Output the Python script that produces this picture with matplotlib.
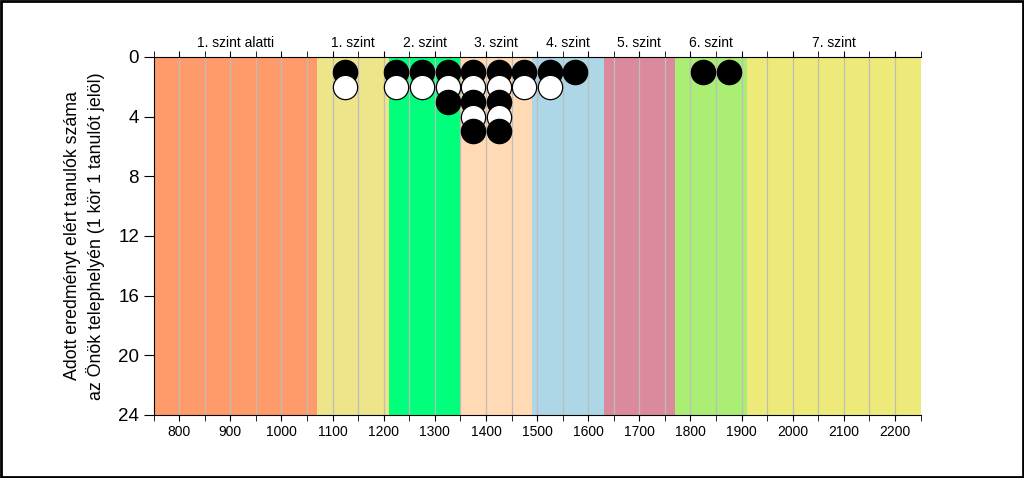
import numpy as np
import matplotlib
matplotlib.use("Agg")
import matplotlib.pyplot as plt
from matplotlib.patches import Rectangle

plt.rcParams['font.family'] = ['Liberation Sans', 'DejaVu Sans']

# Level bands (score limits) and their colours
band_edges = [750, 1070, 1210, 1350, 1490, 1630, 1770, 1910, 2250]
band_names = ["1. szint alatti", "1. szint", "2. szint", "3. szint",
              "4. szint", "5. szint", "6. szint", "7. szint"]
band_colors = ["#FF9A6A", "#EEE48A", "#00FF7A", "#FFDAB4",
               "#ADD6E6", "#DA8A9C", "#AAEE74", "#EEEA7A"]

# Students per score bin (bin centres)
bin_centres = [1125, 1225, 1275, 1325, 1375, 1425, 1475, 1525, 1575, 1825, 1875]
bin_counts = [2, 2, 2, 3, 5, 5, 2, 2, 1, 1, 1]

fig = plt.figure(figsize=(10.24, 4.78), dpi=100)
ax = fig.add_axes([0.150, 0.132, 0.749, 0.749])

# coloured bands
for i, name in enumerate(band_names):
    x0, x1 = band_edges[i], band_edges[i + 1]
    ax.axvspan(x0, x1, color=band_colors[i], zorder=0, lw=0)
    ax.text((x0 + x1) / 2, 1.02, name, transform=ax.get_xaxis_transform(),
            ha="center", va="bottom", fontsize=10)

# grid lines every 50 points
for gx in np.arange(800, 2250, 50):
    ax.axvline(gx, color="#BDBDBD", lw=0.9, zorder=1)

# stacked circles, one per student
counts = np.array(bin_counts)
centres = np.array(bin_centres)
for level in range(1, counts.max() + 1):
    sel = counts >= level
    face = "black" if level % 2 == 1 else "white"
    ax.plot(centres[sel], np.full(sel.sum(), level), "o", ms=17.5,
            mfc=face, mec="black", mew=0.9, zorder=3 + level, clip_on=False)

ax.set_xlim(750, 2250)
ax.set_ylim(24, 0)
ax.set_yticks(np.arange(0, 25, 4))
ax.set_xticks(np.arange(800, 2201, 100))
ax.set_xticks(np.arange(750, 2251, 50), minor=True)
ax.tick_params(axis="y", labelsize=13.5, length=7, direction="out")
ax.tick_params(axis="x", which="both", labelsize=10, length=4, direction="out",
               top=True)
ax.spines["right"].set_visible(False)

ax.set_ylabel("Adott eredményt elért tanulók száma\naz Önök telephelyén (1 kör 1 tanulót jelöl)",
              fontsize=12.8, linespacing=1.3)
ax.yaxis.set_label_coords(-0.064, 0.5)

# outer frame of the picture
fig.patches.append(Rectangle((0.001, 0.002), 0.998, 0.996, transform=fig.transFigure,
                             fill=False, edgecolor="black", lw=2))

fig.savefig("out.png", dpi=100)
